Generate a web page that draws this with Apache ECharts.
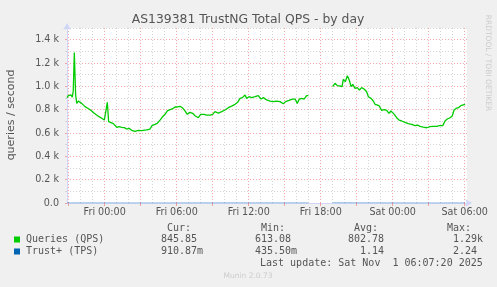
<!DOCTYPE html>
<html><head><meta charset="utf-8">
<script src="https://cdn.jsdelivr.net/npm/echarts/dist/echarts.min.js"></script>
<style>html,body{margin:0;padding:0;background:#F0F0F0;}#c{width:497px;height:287px;}</style>
</head><body><div id="c"></div>
<script>
// ---- data (hours relative to Fri 00:00) ----
const qpsHours = [-3.14,-3.03,-2.92,-2.81,-2.70,-2.62,-2.53,-2.42,-2.33,-2.20,-2.06,-1.92,-1.78,-1.64,-1.50,-1.31,-1.08,-0.87,-0.67,-0.47,-0.25,-0.03,0.08,0.22,0.33,0.44,0.72,0.86,1.00,1.19,1.42,1.63,1.83,2.03,2.25,2.53,2.80,3.08,3.22,3.50,3.78,3.94,4.19,4.38,4.61,4.83,5.03,5.22,5.44,5.63,5.86,6.05,6.28,6.47,6.69,6.88,7.11,7.33,7.53,7.80,8.00,8.28,8.50,8.78,9.00,9.19,9.47,9.75,10.03,10.30,10.58,10.86,11.08,11.28,11.47,11.69,11.83,12.03,12.25,12.53,12.80,13.03,13.22,13.50,13.78,14.05,14.33,14.61,14.88,15.08,15.36,15.63,15.86,16.05,16.22,16.42,16.61,16.83,16.97,
  18.00,
  19.00,19.19,19.38,19.61,19.78,19.88,20.05,20.22,20.38,20.53,20.67,20.86,21.05,21.22,21.42,21.61,21.83,21.97,22.19,22.38,22.53,22.69,22.86,23.08,23.30,23.50,23.69,23.86,23.97,24.13,24.33,24.53,24.75,25.03,25.30,25.58,25.86,26.08,26.28,26.55,26.83,27.11,27.38,27.67,27.89,28.00,28.17,28.36,28.55,28.78,28.97,29.11,29.28,29.47,29.67,29.83,30.03];
const qpsValues = [902,920,932,926,908,960,1290,926,854,874,874,854,846,826,817,806,789,769,754,740,726,711,720,863,697,680,680,668,649,654,649,646,634,640,623,613,623,620,628,626,634,663,674,683,711,740,760,789,800,806,823,823,829,817,789,760,777,769,748,731,760,760,754,754,760,783,771,783,797,817,831,846,863,897,903,926,897,911,903,911,920,891,903,883,874,869,874,869,851,869,880,891,891,854,891,897,891,920,920,
  null,
  997,1026,1006,1003,997,1060,1040,1091,1054,997,1017,983,989,969,989,977,954,911,897,874,846,854,834,794,800,794,769,789,806,760,731,711,703,691,680,674,663,668,657,651,645,654,657,657,663,680,663,703,720,731,748,797,811,817,834,846,846];
const tpsHours = [-3.14,-2,-1,0,1,2,3,4,5,6,7,8,9,10,11,12,13,14,15,16,16.97,18.00,19.00,20,21,22,23,24,25,26,27,28,29,30.03];
const tpsValues = [1.10,1.00,0.95,0.90,0.75,0.62,0.55,0.48,0.60,0.85,0.95,1.10,1.25,1.35,1.30,1.20,1.15,1.25,1.20,1.15,1.10,null,2.24,1.90,1.60,1.40,1.20,1.00,0.80,0.60,0.44,0.50,0.70,0.91];

const xTickHours = [0,6,12,18,24,30];
const xTickLabels = ['Fri 00:00','Fri 06:00','Fri 12:00','Fri 18:00','Sat 00:00','Sat 06:00'];
const yTickValues = [0,200,400,600,800,1000,1200,1400];
const yTickLabels = ['0.0','0.2 k','0.4 k','0.6 k','0.8 k','1.0 k','1.2 k','1.4 k'];

const seriesNames = ['Queries (QPS)','Trust+ (TPS)'];
const seriesColors = ['#00cc00','#0066b3'];
const statHeaders = ['Cur:','Min:','Avg:','Max:'];
const statCur = ['845.85 ','910.87m'];
const statMin = ['613.08 ','435.50m'];
const statAvg = ['802.78 ','  1.14 '];
const statMax = ['  1.29k','  2.24 '];
const lastUpdate = 'Last update: Sat Nov  1 06:07:20 2025';
const titleText = 'AS139381 TrustNG Total QPS - by day';
const yName = 'queries / second';

// ---- build ----
const X_MIN = -3.14, X_MAX = 30.19, Y_MIN = 0, Y_MAX = 1500;
const minorX = [], majorX = [];
for (let h = -3; h <= 30; h++) { (h % 3 === 0 ? majorX : minorX).push(h); }
const minorY = [], majorY = yTickValues.slice();
for (let v = 100; v <= 1500; v += 200) minorY.push(v);

const qpsData = qpsHours.map((h, i) => [h, qpsValues[i] === null ? '-' : qpsValues[i]]);
const tpsData = tpsHours.map((h, i) => [h, tpsValues[i] === null ? '-' : tpsValues[i]]);

const sans = 'DejaVu Sans';
const mono = 'DejaVu Sans Mono';
const fontColor = '#555';
const axisColor = '#CFD6F8';
const minorColor = '#d4d4d4';
const majorColor = 'rgba(240,110,110,0.6)';

const chart = echarts.init(document.getElementById('c'), null, {renderer: 'canvas'});

const graphics = [];
graphics.push({type:'text', x:248, y:20, style:{text:titleText, font:'12.4px "'+sans+'"', fill:fontColor, align:'center', verticalAlign:'middle'}});
graphics.push({type:'text', x:11, y:115, rotation:Math.PI/2, style:{text:yName, font:'11px "'+sans+'"', fill:fontColor, align:'center', verticalAlign:'middle'}});
graphics.push({type:'text', x:488, y:63, rotation:-Math.PI/2, style:{text:'RRDTOOL / TOBI OETIKER', font:'7.5px "'+sans+'"', fill:'#cccccc', align:'center', verticalAlign:'middle'}});
graphics.push({type:'text', x:248, y:276, style:{text:'Munin 2.0.73', font:'7.5px "'+sans+'"', fill:'#cccccc', align:'center', verticalAlign:'middle'}});
const colX = [161, 255, 348, 441];
statHeaders.forEach((t, i) => graphics.push({type:'text', x:colX[i] + 6, y:228, style:{text:t, font:'10px "'+mono+'"', fill:fontColor, align:'left', verticalAlign:'middle'}}));
const rowY = [239.5, 251.5];
seriesNames.forEach((n, r) => {
  graphics.push({type:'rect', shape:{x:14, y:rowY[r]-3, width:6, height:6}, style:{fill:seriesColors[r]}});
  graphics.push({type:'text', x:26, y:rowY[r], style:{text:n, font:'10px "'+mono+'"', fill:fontColor, align:'left', verticalAlign:'middle'}});
  [statCur[r], statMin[r], statAvg[r], statMax[r]].forEach((s, i) => graphics.push({type:'text', x:colX[i], y:rowY[r], style:{text:s, font:'10px "'+mono+'"', fill:fontColor, align:'left', verticalAlign:'middle'}}));
});
graphics.push({type:'text', x:260, y:263.5, style:{text:lastUpdate, font:'10px "'+mono+'"', fill:fontColor, align:'left', verticalAlign:'middle'}});

chart.setOption({
  animation: false,
  backgroundColor: '#F0F0F0',
  grid: {left:67, top:28, width:400, height:175, show:true, backgroundColor:'#ffffff', borderWidth:0, containLabel:false},
  xAxis: [
    {type:'value', min:X_MIN, max:X_MAX, position:'bottom',
     axisLine:{show:false, onZero:false}, axisLabel:{show:false},
     axisTick:{show:false, customValues:minorX},
     splitLine:{show:true, lineStyle:{color:minorColor, width:1, type:[1,2]}}},
    {type:'value', min:X_MIN, max:X_MAX, position:'bottom',
     axisLine:{show:true, onZero:false, lineStyle:{color:axisColor, width:1}, symbol:['none','arrow'], symbolSize:[6,7], symbolOffset:[0,5]},
     axisTick:{show:true, customValues:majorX, length:3, inside:false, lineStyle:{color:majorColor}},
     axisLabel:{show:true, customValues:xTickHours, margin:4, fontFamily:sans, fontSize:9.6, color:fontColor,
       formatter:(v)=>xTickLabels[xTickHours.indexOf(Math.round(v))]},
     splitLine:{show:true, lineStyle:{color:majorColor, width:1, type:[1,2]}}}
  ],
  yAxis: [
    {type:'value', min:Y_MIN, max:Y_MAX, position:'left',
     axisLine:{show:false, onZero:false}, axisLabel:{show:false},
     axisTick:{show:true, customValues:minorY, length:2, lineStyle:{color:minorColor}},
     splitLine:{show:true, lineStyle:{color:minorColor, width:1, type:[1,2]}}},
    {type:'value', min:Y_MIN, max:Y_MAX, position:'left',
     axisLine:{show:true, onZero:false, lineStyle:{color:axisColor, width:1}, symbol:['none','arrow'], symbolSize:[6,7], symbolOffset:[0,5]},
     axisTick:{show:true, customValues:majorY, length:2, lineStyle:{color:majorColor}},
     axisLabel:{show:true, customValues:yTickValues, margin:8, fontFamily:sans, fontSize:9.6, color:fontColor,
       formatter:(v)=>yTickLabels[yTickValues.indexOf(Math.round(v))]},
     splitLine:{show:true, lineStyle:{color:majorColor, width:1, type:[1,2]}}}
  ],
  series: [
    {name:seriesNames[1], type:'line', xAxisIndex:1, yAxisIndex:1, data:tpsData, showSymbol:false, connectNulls:false,
     lineStyle:{color:seriesColors[1], width:1, opacity:0.45}, z:3},
    {name:seriesNames[0], type:'line', xAxisIndex:1, yAxisIndex:1, data:qpsData, showSymbol:false, connectNulls:false,
     lineStyle:{color:seriesColors[0], width:1.3}, z:4}
  ],
  graphic: graphics
});
</script>
</body></html>
